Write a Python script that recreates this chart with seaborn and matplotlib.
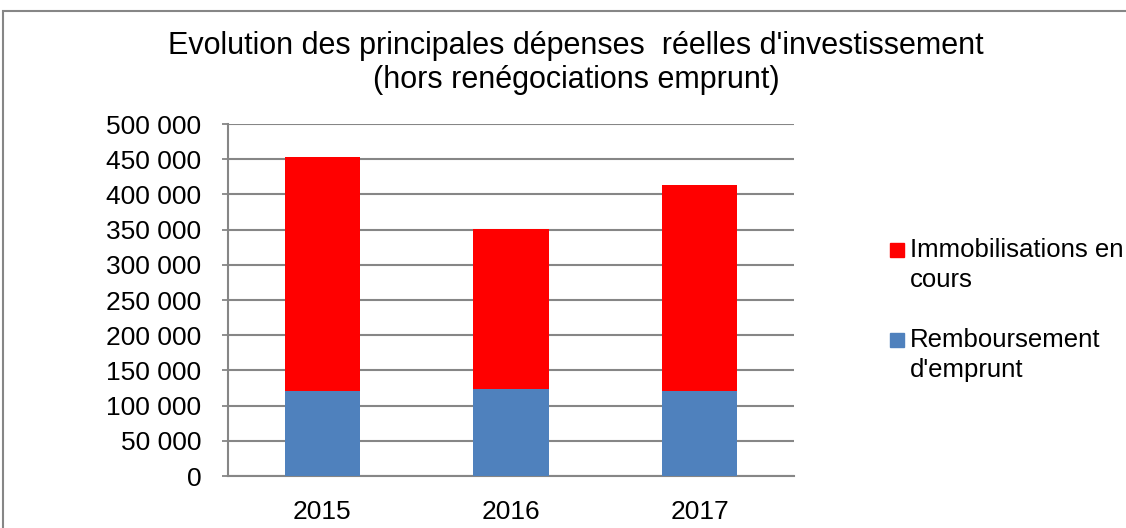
import matplotlib
matplotlib.use("Agg")
import matplotlib.pyplot as plt
import matplotlib.patches as mpatches
import pandas as pd
import seaborn as sns

# values
years = ["2015", "2016", "2017"]
remboursement = [121000, 124000, 121000]
immobilisations = [332000, 227000, 293000]
yticks = [0, 50000, 100000, 150000, 200000, 250000, 300000, 350000, 400000, 450000, 500000]
legend_labels = [["Immobilisations en", "cours"], ["Remboursement", "d'emprunt"]]

red = "#FF0000"
blue = "#4F81BD"
grid_grey = "#868686"

W, H = 1126, 528

sns.set_theme(style="white")
plt.rcParams["font.family"] = ["Liberation Sans", "DejaVu Sans"]
plt.rcParams["text.color"] = "black"
plt.rcParams["xtick.labelcolor"] = "black"
plt.rcParams["ytick.labelcolor"] = "black"

df = pd.DataFrame({"annee": years,
                   "remb": remboursement,
                   "immo": immobilisations})
df["total"] = df["remb"] + df["immo"]

fig = plt.figure(figsize=(W / 100, H / 100), dpi=100)
ax = fig.add_axes([228 / W, 1 - 476 / H, (794 - 228) / W, (476 - 124) / H])

sns.barplot(data=df, x="annee", y="total", color=red, width=0.4,
            saturation=1, linewidth=0, ax=ax, zorder=2)
sns.barplot(data=df, x="annee", y="remb", color=blue, width=0.4,
            saturation=1, linewidth=0, ax=ax, zorder=3)

ax.set_ylim(0, 500000)
ax.set_xlim(-0.5, 2.5)
ax.set_yticks(yticks)
ax.set_yticklabels([f"{v:,}".replace(",", " ") for v in yticks], fontsize=19)
ax.tick_params(axis="x", labelsize=19, length=0, pad=17, labelcolor="black")
ax.tick_params(axis="y", left=True, length=4, width=1.3, color=grid_grey, pad=15,
               labelcolor="black")
ax.set_xlabel("")
ax.set_ylabel("")
ax.yaxis.grid(True, color=grid_grey, linewidth=1.5, zorder=0)
ax.set_axisbelow(True)
for s in ["top", "right"]:
    ax.spines[s].set_visible(False)
for s in ["left", "bottom"]:
    ax.spines[s].set_color(grid_grey)
    ax.spines[s].set_linewidth(1.5)

fig.text(576 / W, 1 - 63 / H, "Evolution des principales dépenses  réelles d'investissement\n"
         "(hors renégociations emprunt)", ha="center", va="center",
         fontsize=22, linespacing=1.15, color="black")

# legend: square aligned with the first line of each wrapped label
for color, lines, y0 in zip([red, blue], legend_labels, [250, 340]):
    fig.add_artist(mpatches.Rectangle((890 / W, 1 - (y0 + 7) / H), 14 / W, 14 / H,
                                      transform=fig.transFigure, color=color))
    for i, line in enumerate(lines):
        fig.text(910 / W, 1 - (y0 + 30 * i) / H, line, ha="left", va="center",
                 fontsize=18.5, color="black")

# outer frame of the chart area
fig.add_artist(mpatches.Rectangle((3 / W, -0.1), 1.2, 1 - 11 / H + 0.1,
                                  transform=fig.transFigure, fill=False,
                                  edgecolor=grid_grey, linewidth=1.5))

fig.savefig("out.png", dpi=100)
